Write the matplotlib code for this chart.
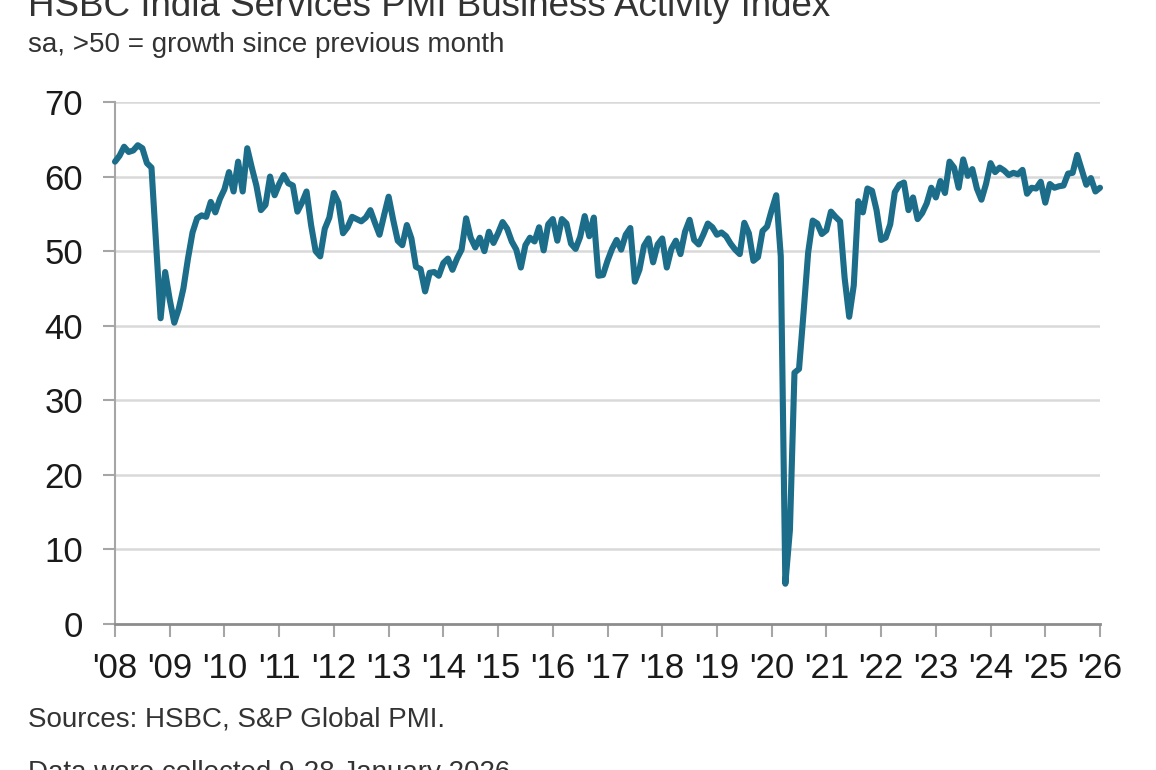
import matplotlib
matplotlib.use("Agg")
import matplotlib.pyplot as plt
import numpy as np

# Monthly HSBC India Services PMI Business Activity Index, Jan 2008 - Jan 2026
pmi_2008 = [62.0, 62.8, 64.0, 63.3, 63.5, 64.2, 63.8, 61.8, 61.2, 51.0, 41.0, 47.2]
pmi_2009 = [43.5, 40.4, 42.3, 45.0, 49.0, 52.5, 54.4, 54.8, 54.6, 56.6, 55.2, 57.0]
pmi_2010 = [58.3, 60.6, 58.0, 62.0, 58.0, 63.8, 61.2, 58.8, 55.5, 56.2, 60.0, 57.5]
pmi_2011 = [59.0, 60.2, 59.1, 58.8, 55.3, 56.5, 58.0, 53.5, 50.0, 49.3, 53.0, 54.5]
pmi_2012 = [57.8, 56.5, 52.4, 53.2, 54.6, 54.3, 54.0, 54.5, 55.5, 53.8, 52.2, 54.8]
pmi_2013 = [57.3, 54.2, 51.4, 50.8, 53.5, 51.7, 47.9, 47.6, 44.6, 47.1, 47.2, 46.7]
pmi_2014 = [48.4, 49.0, 47.5, 49.0, 50.2, 54.4, 51.8, 50.5, 51.8, 50.0, 52.6, 51.1]
pmi_2015 = [52.4, 53.9, 53.0, 51.3, 50.2, 47.8, 50.8, 51.8, 51.3, 53.2, 50.1, 53.6]
pmi_2016 = [54.3, 51.4, 54.3, 53.7, 51.0, 50.3, 51.9, 54.7, 52.0, 54.5, 46.7, 46.8]
pmi_2017 = [48.7, 50.3, 51.5, 50.2, 52.2, 53.1, 45.9, 47.5, 50.7, 51.7, 48.5, 50.9]
pmi_2018 = [51.7, 47.8, 50.3, 51.4, 49.6, 52.6, 54.2, 51.5, 50.9, 52.2, 53.7, 53.2]
pmi_2019 = [52.2, 52.5, 52.0, 51.0, 50.2, 49.6, 53.8, 52.4, 48.7, 49.2, 52.7, 53.3]
pmi_2020 = [55.5, 57.5, 49.3, 5.4, 12.6, 33.7, 34.2, 41.8, 49.8, 54.1, 53.7, 52.3]
pmi_2021 = [52.8, 55.3, 54.6, 54.0, 46.4, 41.2, 45.4, 56.7, 55.2, 58.4, 58.1, 55.5]
pmi_2022 = [51.5, 51.8, 53.6, 57.9, 58.9, 59.2, 55.5, 57.2, 54.3, 55.1, 56.4, 58.5]
pmi_2023 = [57.2, 59.4, 57.8, 62.0, 61.2, 58.5, 62.3, 60.1, 61.0, 58.4, 56.9, 59.0]
pmi_2024 = [61.8, 60.6, 61.2, 60.8, 60.2, 60.5, 60.3, 60.9, 57.7, 58.5, 58.4, 59.3]
pmi_2025 = [56.5, 59.0, 58.5, 58.7, 58.8, 60.4, 60.5, 62.9, 60.9, 58.9, 59.8, 58.0]
pmi_2026 = [58.5]

years = list(range(2008, 2027))
year_labels = ["'08", "'09", "'10", "'11", "'12", "'13", "'14", "'15", "'16",
               "'17", "'18", "'19", "'20", "'21", "'22", "'23", "'24", "'25", "'26"]
y_ticks = [0, 10, 20, 30, 40, 50, 60, 70]

values = (pmi_2008 + pmi_2009 + pmi_2010 + pmi_2011 + pmi_2012 + pmi_2013 +
          pmi_2014 + pmi_2015 + pmi_2016 + pmi_2017 + pmi_2018 + pmi_2019 +
          pmi_2020 + pmi_2021 + pmi_2022 + pmi_2023 + pmi_2024 + pmi_2025 + pmi_2026)
dates = 2008 + np.arange(len(values)) / 12.0

FONT = ["Liberation Sans", "DejaVu Sans"]
plt.rcParams['font.family'] = FONT

W, H = 1156, 770
fig = plt.figure(figsize=(W / 100, H / 100), dpi=100)
ax = fig.add_axes([115 / W, 1 - 624 / H, (1100 - 115) / W, (624 - 102) / H])

line_color = "#1c6d8a"
ax.plot(dates, values, color=line_color, lw=4.4, solid_joinstyle="round",
        solid_capstyle="round", zorder=3, clip_on=False)

ax.set_xlim(2008, 2026)
ax.set_ylim(0, 70)
ax.set_yticks(y_ticks)
ax.set_yticklabels([str(t) for t in y_ticks])
ax.set_xticks(years)
ax.set_xticklabels(year_labels)

for t in y_ticks[1:]:
    ax.axhline(t, color="#d9d9d9", lw=1.8, zorder=1)

for s in ["top", "right"]:
    ax.spines[s].set_visible(False)
ax.spines["left"].set_color("#a6a6a6")
ax.spines["left"].set_linewidth(1.5)
ax.spines["bottom"].set_color("#8c8c8c")
ax.spines["bottom"].set_linewidth(2.0)
ax.spines["bottom"].set_zorder(4)

ax.tick_params(axis="y", length=9, width=1.5, color="#a6a6a6", pad=14,
               labelsize=25, labelcolor="#1a1a1a")
ax.tick_params(axis="x", length=9, width=1.5, color="#a6a6a6", pad=11,
               labelsize=25, labelcolor="#1a1a1a")

fig.text(28 / W, 1 - 16 / H, "HSBC India Services PMI Business Activity Index",
         fontsize=26.5, color="#333333", ha="left", va="baseline")
fig.text(28 / W, 1 - 52 / H, "sa, >50 = growth since previous month",
         fontsize=20, color="#333333", ha="left", va="baseline")
fig.text(28 / W, 1 - 727 / H, "Sources: HSBC, S&P Global PMI.",
         fontsize=20, color="#333333", ha="left", va="baseline")
fig.text(28 / W, 1 - 780 / H, "Data were collected 9-28 January 2026",
         fontsize=20, color="#333333", ha="left", va="baseline")

fig.savefig("out.png", dpi=100, facecolor="white")
